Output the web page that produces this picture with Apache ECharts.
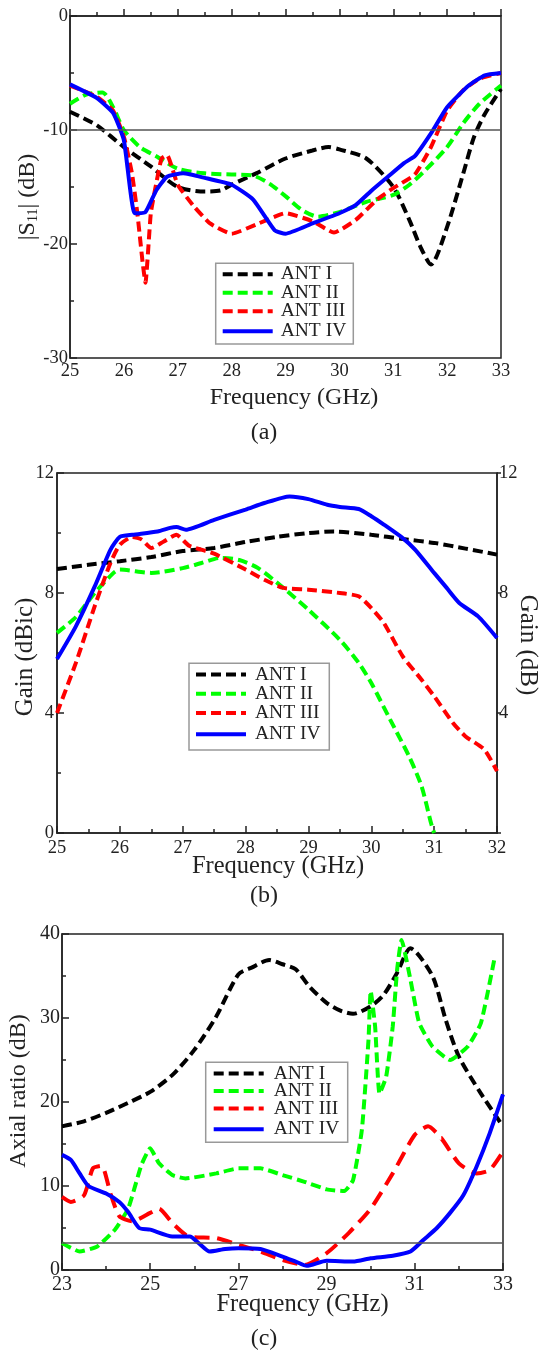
<!DOCTYPE html>
<html><head><meta charset="utf-8">
<script src="https://cdn.jsdelivr.net/npm/echarts@6/dist/echarts.min.js"></script>
<style>html,body{margin:0;padding:0;background:#fff}#c{width:541px;height:1351px}</style>
</head><body><div id="c"></div>
<script>
// ---------- DATA ----------
const seriesNames = ['ANT I', 'ANT II', 'ANT III', 'ANT IV'];
// (a) |S11| (dB) vs frequency (GHz)
const s11Ant1 = [[25,-8.4],[25.5,-9.6],[26,-11.5],[26.5,-13.2],[27,-15.0],[27.5,-15.4],[27.8,-15.3],[28,-14.8],[28.5,-13.7],[29,-12.5],[29.5,-11.8],[29.8,-11.5],[30,-11.7],[30.5,-12.5],[31,-15.0],[31.3,-17.9],[31.5,-20.2],[31.7,-21.8],[32,-18.5],[32.3,-13.8],[32.5,-10.6],[32.7,-8.6],[33,-6.4]];
const s11Ant2 = [[25,-7.7],[25.3,-6.9],[25.6,-6.7],[25.8,-8.0],[26,-10.0],[26.3,-11.5],[26.6,-12.3],[27,-13.4],[27.5,-13.8],[28,-13.9],[28.4,-14.0],[28.7,-14.7],[29,-15.8],[29.3,-17.0],[29.6,-17.6],[30,-17.2],[30.5,-16.3],[31,-15.7],[31.3,-14.8],[31.6,-13.5],[32,-11.5],[32.3,-9.4],[32.6,-7.7],[33,-6.1]];
const s11Ant3 = [[25,-6.1],[25.5,-7.1],[25.8,-8.3],[26,-10.6],[26.15,-13.8],[26.25,-17.3],[26.35,-21.7],[26.4,-23.4],[26.5,-17.3],[26.6,-14.7],[26.7,-12.5],[26.8,-12.2],[27,-14.8],[27.3,-16.7],[27.6,-18.2],[28,-19.1],[28.5,-18.2],[29,-17.3],[29.5,-18.0],[29.9,-19.0],[30.3,-17.9],[30.7,-16.1],[31,-15.1],[31.4,-13.9],[31.7,-11.5],[32,-8.3],[32.3,-6.5],[32.6,-5.5],[33,-5.0]];
const s11Ant4 = [[25,-6.0],[25.5,-7.2],[25.8,-8.5],[26,-10.9],[26.2,-17.3],[26.4,-17.2],[26.6,-15.3],[26.8,-14.1],[27.1,-13.8],[27.5,-14.2],[28,-14.8],[28.4,-16.1],[28.8,-18.8],[29,-19.1],[29.5,-18.2],[30,-17.3],[30.3,-16.6],[30.6,-15.3],[30.9,-14.1],[31.2,-12.9],[31.4,-12.3],[31.7,-10.3],[32,-8.0],[32.4,-6.1],[32.7,-5.2],[33,-5.0]];
const s11Ref = -10;
// (b) Gain vs frequency (GHz)
const gainAnt1 = [[25,8.8],[25.5,8.94],[26,9.06],[26.5,9.2],[27,9.4],[27.5,9.5],[28,9.7],[28.5,9.87],[29,10.0],[29.4,10.05],[30,9.94],[30.5,9.8],[31,9.67],[31.5,9.48],[32,9.28]];
const gainAnt2 = [[25,6.67],[25.3,7.2],[25.6,8.0],[25.9,8.67],[26,8.78],[26.5,8.67],[27,8.83],[27.3,9.0],[27.6,9.17],[27.9,9.1],[28.2,8.83],[28.6,8.17],[29,7.44],[29.5,6.44],[29.8,5.67],[30,5.0],[30.3,3.78],[30.6,2.56],[30.8,1.56],[30.95,0.33],[31,0]];
const gainAnt3 = [[25,4.0],[25.3,5.67],[25.6,7.56],[25.85,9.0],[26,9.61],[26.2,9.87],[26.35,9.78],[26.5,9.5],[26.7,9.72],[26.9,9.94],[27.1,9.58],[27.5,9.31],[28,8.78],[28.3,8.44],[28.6,8.17],[29,8.11],[29.5,8.0],[29.8,7.89],[30,7.5],[30.2,7.0],[30.5,5.89],[30.8,5.11],[31,4.56],[31.3,3.67],[31.5,3.22],[31.8,2.78],[32,2.06]];
const gainAnt4 = [[25,5.8],[25.3,6.89],[25.6,8.22],[25.85,9.44],[26,9.87],[26.2,9.94],[26.6,10.05],[26.8,10.17],[26.9,10.2],[27.05,10.11],[27.5,10.44],[28,10.78],[28.3,11.0],[28.7,11.22],[29,11.13],[29.3,10.94],[29.5,10.87],[29.8,10.8],[30,10.56],[30.2,10.28],[30.5,9.83],[30.7,9.44],[31,8.67],[31.2,8.17],[31.4,7.67],[31.7,7.22],[32,6.5]];
// (c) Axial ratio (dB) vs frequency (GHz)
const arAnt1 = [[23,17.1],[23.5,17.7],[24,18.7],[24.5,19.9],[25,21.2],[25.5,23.2],[26,26.2],[26.5,30.2],[27,35.2],[27.3,36.0],[27.7,36.9],[28,36.4],[28.3,35.8],[28.6,33.8],[29,31.8],[29.3,30.9],[29.6,30.5],[30,31.4],[30.3,32.8],[30.6,35.4],[30.9,38.3],[31.4,35.0],[31.7,29.8],[32,25.4],[32.5,21.0],[33,17.1]];
const arAnt2 = [[23,3.2],[23.4,2.2],[23.8,2.8],[24.2,4.8],[24.5,7.3],[24.8,12.5],[25,14.5],[25.2,12.7],[25.5,11.3],[25.8,10.9],[26.5,11.5],[27,12.1],[27.5,12.1],[28,11.3],[28.5,10.5],[29,9.6],[29.4,9.4],[29.6,10.7],[29.8,16.7],[29.95,27.4],[30.0,33.2],[30.1,29.0],[30.2,21.0],[30.35,23.0],[30.5,29.0],[30.6,35.8],[30.7,39.3],[30.9,34.6],[31.1,29.4],[31.4,26.6],[31.8,25.0],[32.2,26.6],[32.5,29.4],[32.8,36.9]];
const arAnt3 = [[23,8.7],[23.2,8.1],[23.5,8.9],[23.7,12.1],[23.9,12.4],[24.1,9.1],[24.3,6.4],[24.6,5.8],[25,6.8],[25.2,7.3],[25.5,5.6],[25.8,4.2],[26,3.9],[26.5,3.8],[27,3.0],[27.5,2.2],[28,1.2],[28.5,0.6],[29,2.0],[29.5,4.4],[30,7.3],[30.5,11.5],[31,16.1],[31.3,17.1],[31.6,15.7],[32,12.7],[32.4,11.5],[32.7,11.9],[33,14.1]];
const arAnt4 = [[23,13.7],[23.2,13.1],[23.4,11.5],[23.6,10.0],[24,9.1],[24.3,8.1],[24.5,6.9],[24.75,5.0],[25,4.8],[25.5,4.0],[25.9,4.0],[26.1,3.2],[26.35,2.2],[26.7,2.5],[27,2.6],[27.5,2.5],[28,1.6],[28.3,1.0],[28.55,0.5],[29,1.1],[29.6,1.0],[30,1.4],[30.5,1.7],[30.9,2.2],[31.2,3.6],[31.5,5.0],[31.8,6.8],[32.1,8.9],[32.4,12.3],[32.7,16.3],[33,20.9]];
const arRef = 3.3;

// ---------- STYLE ----------
const FONT = '"Liberation Serif","Times New Roman",serif';
const TXT = '#222';
const AX = '#222';
const COLORS = ['#000000', '#00ff00', '#ff0000', '#0000ff'];
const DASH = [[10, 5], [10, 5], [10, 5], 'solid'];
const LEG_FS = 19.5;

function xAx(gi, min, max, interval, fs, margin) {
  return {
    type: 'value', gridIndex: gi, min, max, interval,
    axisLine: { show: true, lineStyle: { color: AX, width: 1.5 } },
    axisTick: { show: true, inside: true, length: 7, lineStyle: { color: AX, width: 1.5 } },
    minorTick: { show: true, splitNumber: 2, length: 4, lineStyle: { color: AX, width: 1.5 } },
    splitLine: { show: false }, minorSplitLine: { show: false },
    axisLabel: { color: TXT, fontFamily: FONT, fontSize: fs, margin, showMinLabel: true, showMaxLabel: true, hideOverlap: false }
  };
}
function yAx(gi, min, max, interval, fs, margin, extra) {
  return Object.assign({
    type: 'value', gridIndex: gi, min, max, interval,
    axisLine: { show: true, lineStyle: { color: AX, width: 1.5 } },
    axisTick: { show: true, inside: true, length: 7, lineStyle: { color: AX, width: 1.5 } },
    minorTick: { show: true, splitNumber: 2, length: 4, lineStyle: { color: AX, width: 1.5 } },
    splitLine: { show: false }, minorSplitLine: { show: false },
    axisLabel: { color: TXT, fontFamily: FONT, fontSize: fs, margin, showMinLabel: true, showMaxLabel: true, hideOverlap: false }
  }, extra || {});
}
function ser(i, data, xi, yi, dash, smooth) {
  return {
    type: 'line', name: seriesNames[i], data, xAxisIndex: xi, yAxisIndex: yi,
    symbol: 'none', showSymbol: false, smooth: smooth, clip: true,
    lineStyle: { color: COLORS[i], width: 4, type: dash || DASH[i] },
    itemStyle: { color: COLORS[i] }, z: 2 + (i === 3 ? 1 : 0)
  };
}
function refLine(val, xi, yi) {
  return {
    type: 'line', name: 'ref', data: [], xAxisIndex: xi, yAxisIndex: yi, symbol: 'none', silent: true,
    markLine: { silent: true, symbol: 'none', animation: false, label: { show: false },
      lineStyle: { color: '#555', width: 1.5, type: 'solid' }, data: [{ yAxis: val }] }
  };
}
// rowCenter: centre of first row; spacing: distance between rows
function legend(left, rowCenter, names, spacing, pad) {
  return {
    orient: 'vertical', left, top: rowCenter - LEG_FS / 2, data: names, itemWidth: 50, itemHeight: 10,
    itemGap: spacing - LEG_FS, padding: 0,
    selectedMode: false, lineStyle: { width: 4 },
    itemStyle: { opacity: 0, borderWidth: 0 },
    textStyle: { fontFamily: FONT, fontSize: LEG_FS, color: TXT, lineHeight: LEG_FS, padding: [0, 0, 0, pad] }
  };
}
function txt(x, y, text, fs, rot, rich) {
  return { type: 'text', x, y, rotation: rot || 0, z: 10,
    style: { text, fill: TXT, font: fs + 'px ' + FONT, align: 'center', verticalAlign: 'middle', rich: rich } };
}
function box(x, y, w, h) {
  return { type: 'rect', z: 3, shape: { x, y, width: w, height: h }, style: { fill: 'none', stroke: '#999', lineWidth: 1.5 } };
}

const chart = echarts.init(document.getElementById('c'), null, { renderer: 'canvas' });
const gridBase = { show: true, borderColor: AX, borderWidth: 1.5, backgroundColor: 'transparent', containLabel: false, outerBoundsMode: 'none' };
chart.setOption({
  animation: false,
  backgroundColor: '#fff',
  grid: [
    Object.assign({ left: 70, top: 16, width: 431, height: 342 }, gridBase),
    Object.assign({ left: 57, top: 473, width: 440, height: 360 }, gridBase),
    Object.assign({ left: 62, top: 934, width: 441, height: 336 }, gridBase)
  ],
  xAxis: [
    xAx(0, 25, 33, 1, 18.5, 4),
    xAx(1, 25, 32, 1, 18.5, 6),
    xAx(2, 23, 33, 2, 20, 5)
  ],
  yAxis: [
    yAx(0, -30, 0, 10, 18.5, 2),
    yAx(1, 0, 12, 4, 18.5, 3),
    yAx(1, 0, 12, 4, 18.5, 2, {
      position: 'right',
      axisTick: { show: true, inside: false, length: 4, lineStyle: { color: AX, width: 1.5 } },
      minorTick: { show: false },
      axisLabel: { color: TXT, fontFamily: FONT, fontSize: 18.5, margin: 2, showMinLabel: true, showMaxLabel: true,
        formatter: v => (v === 0 ? '' : String(v)) }
    }),
    yAx(2, 0, 40, 10, 20, 2)
  ],
  legend: [
    legend(220.7, 274, seriesNames.slice(0, 3), 18, 3),
    legend(220.7, 331, seriesNames.slice(3), 18, 3),
    legend(194, 674.3, seriesNames.slice(0, 3), 18.7, 4),
    legend(194, 734, seriesNames.slice(3), 18.7, 4),
    legend(211.7, 1073.3, seriesNames.slice(0, 3), 17, 5),
    legend(211.7, 1129, seriesNames.slice(3), 17, 5)
  ],
  graphic: [
    box(215.7, 263.3, 137.6, 80.7),
    box(189, 663.3, 140.3, 86.7),
    box(205.7, 1062.3, 142, 80),
    txt(28, 197, '|S{s|11}| (dB)', 24, Math.PI / 2, { s: { fontFamily: FONT, fontSize: 14, fill: TXT, verticalAlign: 'bottom', padding: [8, 0, 0, 0] } }),
    txt(294, 398, 'Frequency (GHz)', 24),
    txt(264, 433, '(a)', 24),
    txt(25, 657, 'Gain (dBic)', 25, Math.PI / 2),
    txt(528, 645, 'Gain (dB)', 25, -Math.PI / 2),
    txt(278, 866.7, 'Frequency (GHz)', 24.5),
    txt(264, 896, '(b)', 24),
    txt(19, 1091, 'Axial ratio (dB)', 24, Math.PI / 2),
    txt(302.5, 1305, 'Frequency (GHz)', 24.5),
    txt(264, 1339, '(c)', 24)
  ],
  series: [
    refLine(s11Ref, 0, 0),
    ser(0, s11Ant1, 0, 0, null, 0.25),
    ser(1, s11Ant2, 0, 0, null, 0.25),
    ser(2, s11Ant3, 0, 0, null, 0.15),
    ser(3, s11Ant4, 0, 0, null, 0.15),
    ser(0, gainAnt1, 1, 1, null, 0.25),
    ser(1, gainAnt2, 1, 1, null, 0.25),
    ser(2, gainAnt3, 1, 1, null, 0.2),
    ser(3, gainAnt4, 1, 1, null, 0.2),
    refLine(arRef, 2, 3),
    ser(0, arAnt1, 2, 3, null, 0.25),
    ser(1, arAnt2, 2, 3, null, 0.15),
    ser(2, arAnt3, 2, 3, [15, 8], 0.2),
    ser(3, arAnt4, 2, 3, null, 0.2)
  ]
});
</script></body></html>
